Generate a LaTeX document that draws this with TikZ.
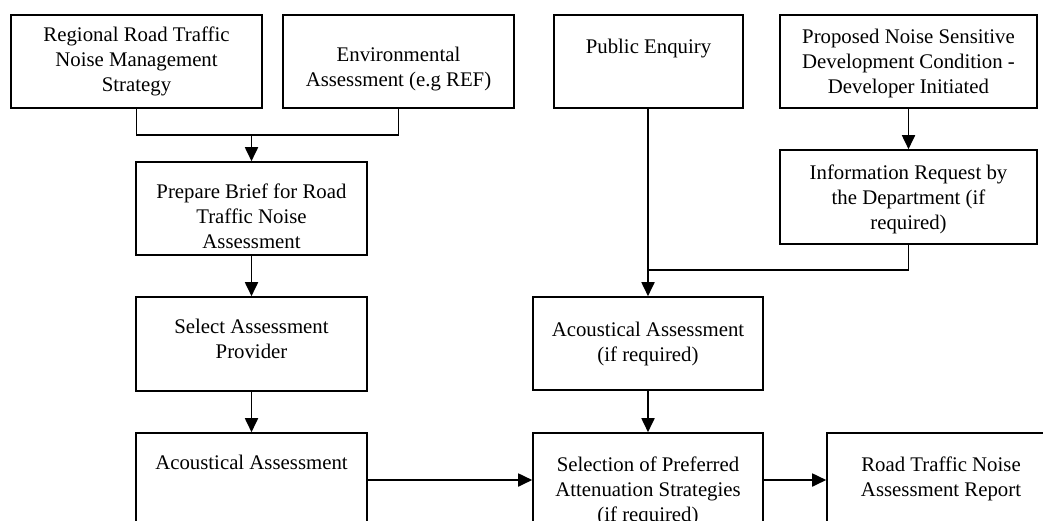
\documentclass[tikz,border=0pt]{standalone}
\usepackage{fontspec}
\setmainfont{Liberation Serif}
\usetikzlibrary{arrows.meta}
\begin{document}
\begin{tikzpicture}[x=1pt,y=-1pt,
  box/.style={draw, line width=1.6pt, inner sep=0pt, minimum height=93pt},
  txt/.style={anchor=north, inner sep=0pt, align=center,
    font=\fontsize{20.8}{25}\selectfont},
  link/.style={line width=1.8pt},
  arr/.style={link, -{Triangle[length=14pt,width=13pt]}}]
\useasboundingbox (0,0) rectangle (1043,520);
\clip (0,0) rectangle (1043,520);

% top row
\node[box, minimum width=251pt] (A) at (136.5,61.5) {};
\node[box, minimum width=231pt] (B) at (398.5,61.5) {};
\node[box, minimum width=189pt] (F) at (648.5,61.5) {};
\node[box, minimum width=257pt] (G) at (908.5,61.5) {};
% left column
\node[box, minimum width=231pt] (C) at (251.5,208.5) {};
\node[box, minimum width=231pt, minimum height=94pt] (D) at (251.5,344) {};
\node[box, minimum width=231pt, minimum height=94pt] (E) at (251.5,480) {};
% right part
\node[box, minimum width=257pt, minimum height=94pt] (H) at (908.5,197) {};
\node[box, minimum width=230pt] (I) at (648,343.5) {};
\node[box, minimum width=230pt, minimum height=94pt] (J) at (648,480) {};
\node[box, minimum width=228pt, minimum height=94pt] (K) at (941,480) {};

% box texts
\node[txt] (A-t) at (136.5,27) {Regional Road Traffic\\Noise Management\\Strategy};
\node[txt] (B-t) at (398.5,47) {Environmental\\Assessment (e.g REF)};
\node[txt] (F-t) at (648.5,39) {Public Enquiry};
\node[txt] (G-t) at (908.5,29) {Proposed Noise Sensitive\\Development Condition -\\Developer Initiated};
\node[txt] (C-t) at (251.5,184) {Prepare Brief for Road\\Traffic Noise\\Assessment};
\node[txt] (D-t) at (251.5,319) {Select Assessment\\Provider};
\node[txt] (E-t) at (251.5,455) {Acoustical Assessment};
\node[txt] (H-t) at (908.5,165) {Information Request by\\the Department (if\\required)};
\node[txt] (I-t) at (648,322) {Acoustical Assessment\\(if required)};
\node[txt] (J-t) at (648,457) {Selection of Preferred\\Attenuation Strategies\\(if required)};
\node[txt] (K-t) at (941,457) {Road Traffic Noise\\Assessment Report};

% junction points
\coordinate (j1) at (251.5,135);
\coordinate (j2) at (648,270);

% connectors
\draw[link] (A.south) |- (j1) -| (B.south);
\draw[arr] (j1) -- (C.north);
\draw[arr] (C) -- (D);
\draw[arr] (D) -- (E);
\draw[arr] (G) -- (H);
\draw[arr] (F.south -| I.north) -- (I.north);
\draw[link] (H.south) |- (j2);
\draw[arr] (I) -- (J);
\draw[arr] (E) -- (J);
\draw[arr] (J) -- (K);
\end{tikzpicture}
\end{document}
